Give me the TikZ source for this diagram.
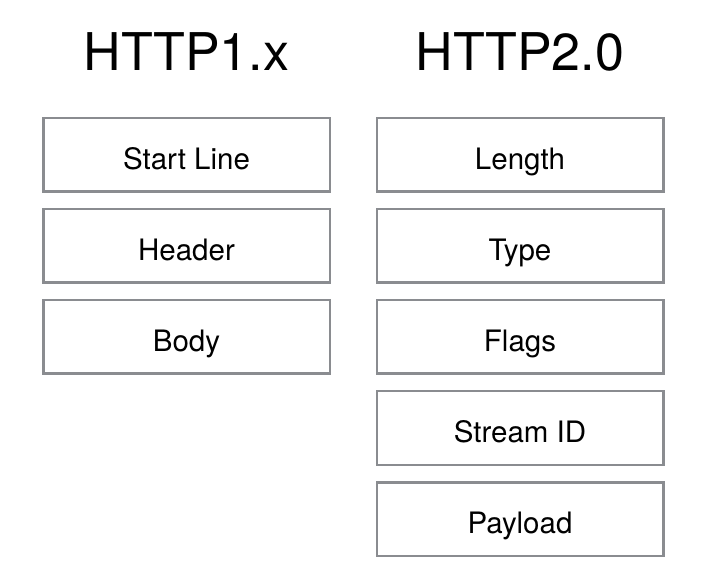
\documentclass[tikz,border=0pt]{standalone}
\usepackage{fontspec}
\setmainfont{TeX Gyre Heros}
\definecolor{boxline}{RGB}{138,140,144}
\begin{document}
\begin{tikzpicture}[x=1pt,y=1pt,
  field/.style={draw=boxline, line width=2.5pt, fill=white,
    minimum width=286.5pt, minimum height=73.5pt, inner sep=0pt,
    font=\fontsize{29.5}{31}\selectfont, text height=28.5pt, text depth=0pt},
  title/.style={anchor=base, inner sep=0pt, font=\fontsize{52}{56}\selectfont}]
\useasboundingbox (0,0) rectangle (717,573);
\node[title] (t1) at (186.5,502.3) {HTTP1.x};
\node[title] (t2) at (520,502.3) {HTTP2.0};
\node[field] (l1) at (186.5,418) {Start Line};
\node[field] (l2) at (186.5,327) {Header};
\node[field] (l3) at (186.5,236) {Body};
\node[field] (r1) at (520,418) {Length};
\node[field] (r2) at (520,327) {Type};
\node[field] (r3) at (520,236) {Flags};
\node[field] (r4) at (520,145) {Stream ID};
\node[field] (r5) at (520,54) {Payload};
\end{tikzpicture}
\end{document}
